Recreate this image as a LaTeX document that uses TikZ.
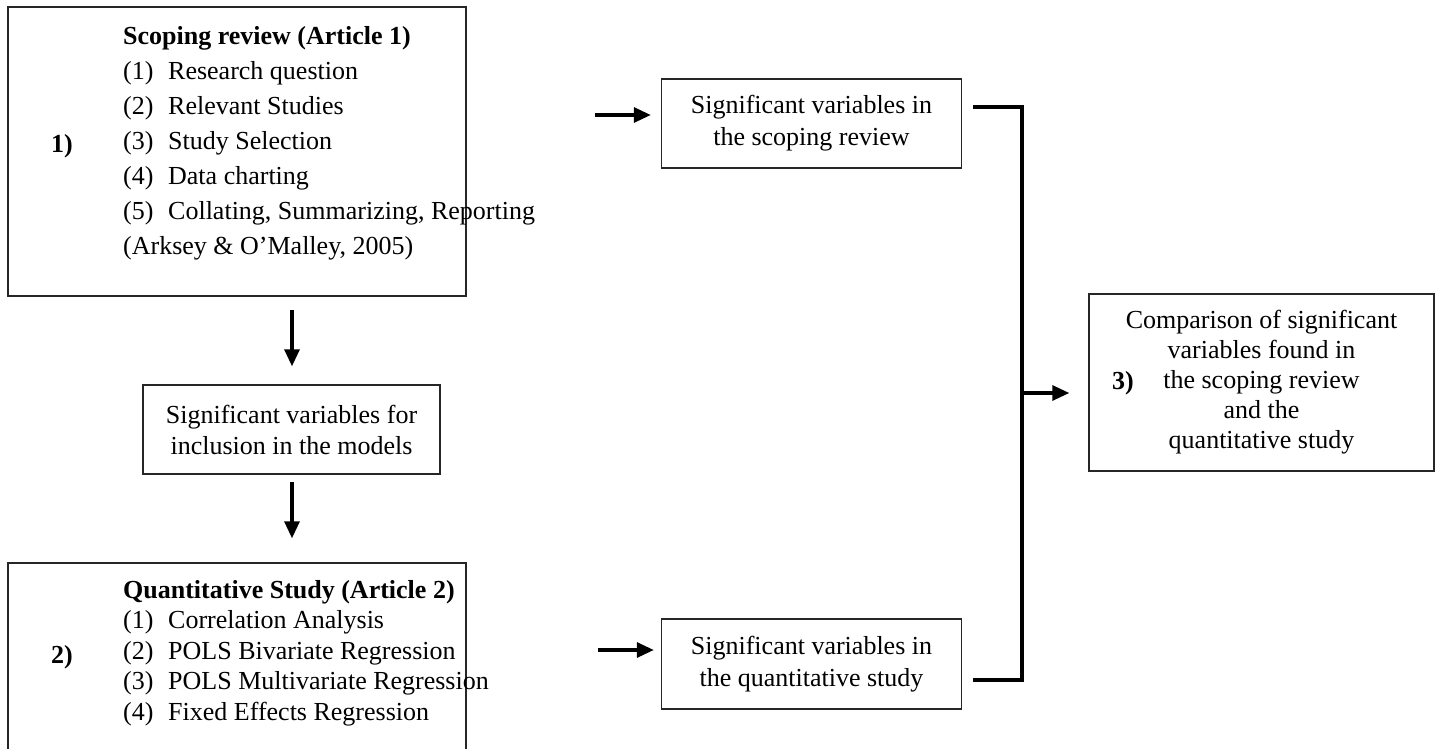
\documentclass[tikz,border=0pt]{standalone}
\usepackage{fontspec}
\setmainfont{Liberation Serif}
\usetikzlibrary{arrows.meta,positioning}

\tikzset{
  stagebox/.style={draw=black!85, line width=1.4pt, rectangle, inner sep=0pt},
  resultbox/.style={stagebox, align=center, font=\fontsize{26}{32}\selectfont},
  stagenum/.style={font=\fontsize{26}{32}\selectfont\bfseries},
  steplist/.style={anchor=north west, inner sep=0pt, align=left},
  flow/.style={-{Triangle[length=17pt,width=15pt]}, line width=3.2pt},
  bracket/.style={line width=3.2pt},
}
\newcommand{\stepitem}[2]{\makebox[45pt][l]{(#1)}#2}

\begin{document}
\begin{tikzpicture}[x=1pt,y=-1pt]
		\useasboundingbox (0,0) rectangle (1440,749);
		\clip (0,0) rectangle (1440,749);
		% stage boxes
		\node[stagebox, minimum width=458pt, minimum height=289pt] (scoping) at (237,151.5) {};
		\node[stagebox, minimum width=458pt, minimum height=220pt] (quant) at (237,673) {};
		\node[stagenum] (num1) at (62,146) {1)};
		\node[stagenum] (num2) at (62,657) {2)};
		\node[steplist, font=\fontsize{26}{35}\selectfont] (scopinglist) at (123,26) {\textbf{Scoping review (Article 1)}\\
			\stepitem{1}{Research question}\\
			\stepitem{2}{Relevant Studies}\\
			\stepitem{3}{Study Selection}\\
			\stepitem{4}{Data charting}\\
			\stepitem{5}{Collating, Summarizing, Reporting}\\
			(Arksey \& O’Malley, 2005)};
		\node[steplist, font=\fontsize{26}{30.5}\selectfont] (quantlist) at (123,580) {\textbf{Quantitative Study (Article 2)}\\
			\stepitem{1}{Correlation Analysis}\\
			\stepitem{2}{POLS Bivariate Regression}\\
			\stepitem{3}{POLS Multivariate Regression}\\
			\stepitem{4}{Fixed Effects Regression}};
		% result boxes
		\node[resultbox, minimum width=300pt, minimum height=89pt] (sigrev) at (811.5,123.5) {Significant variables in\\the scoping review};
		\node[resultbox, minimum width=297pt, minimum height=89pt, font=\fontsize{26}{31}\selectfont] (sigmod) at (291.5,429.5) {Significant variables for\\inclusion in the models};
		\node[resultbox, minimum width=300pt, minimum height=90pt] (sigquant) at (811.5,664) {Significant variables in\\the quantitative study};
		\node[resultbox, minimum width=345pt, minimum height=177pt, font=\fontsize{26}{30}\selectfont] (compare) at (1261.5,382.5) {Comparison of significant\\variables found in\\the scoping review\\and the\\quantitative study};
		\node[stagenum] (num3) at (1123,383) {3)};
		% connectors
		\coordinate (revin) at (595,115);
		\coordinate (quantin) at (598,650);
		\coordinate (down1) at (292,310);
		\coordinate (down2) at (292,482);
		\coordinate (revout) at (973,107);
		\coordinate (quantout) at (973,680);
		\coordinate (join) at (1022,393);
		\draw[flow, shorten >=10pt] (revin) -- (revin -| sigrev.west);
		\draw[flow, shorten >=7pt] (quantin) -- (quantin -| sigquant.west);
		\draw[flow, shorten >=18pt] (down1) -- (down1 |- sigmod.north);
		\draw[flow, shorten >=24pt] (down2) -- (down2 |- quant.north);
		\draw[bracket] (revout) -- (revout -| join) -- (quantout -| join) -- (quantout);
		\draw[flow, shorten >=19pt] (join) -- (join -| compare.west);
	\end{tikzpicture}
\end{document}
